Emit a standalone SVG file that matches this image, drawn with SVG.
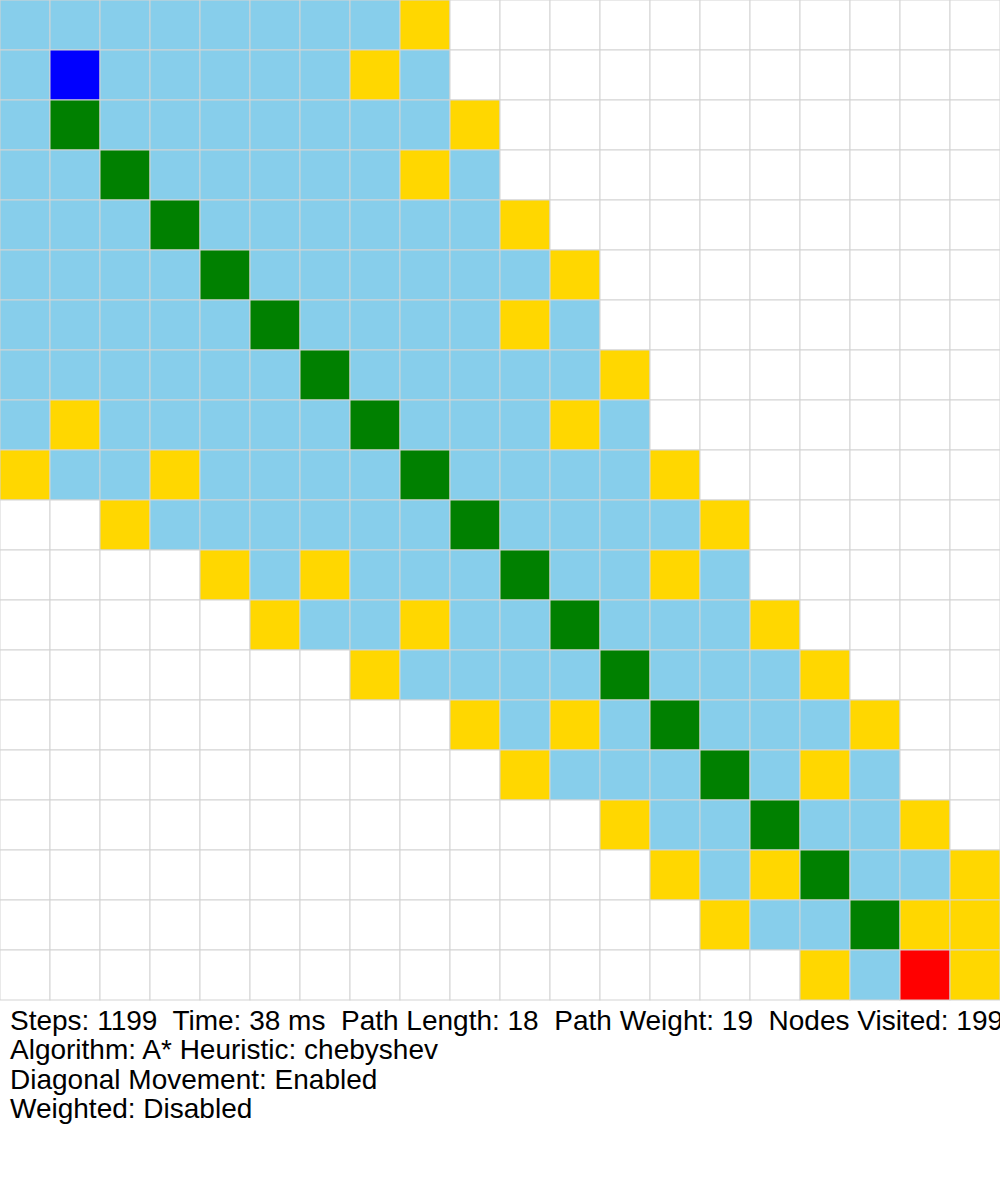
<svg xmlns="http://www.w3.org/2000/svg" width="1000" height="1200" viewBox="0 0 1000 1200">
<style>
#grid rect{stroke:#d3d3d3;stroke-width:1}
.w{fill:#ffffff}.v{fill:#87ceeb}.o{fill:#ffd700}.p{fill:#008000}.s{fill:#0000ff}.e{fill:#ff0000}
text{font-family:"Liberation Sans",Arial,sans-serif;font-size:28px;fill:#000;white-space:pre}
</style>
<rect x="0" y="0" width="1000" height="1200" fill="#fff"/>
<g id="grid">
<!-- row 0 -->
<rect class="v" x="0" y="0" width="50" height="50"/><rect class="v" x="50" y="0" width="50" height="50"/><rect class="v" x="100" y="0" width="50" height="50"/><rect class="v" x="150" y="0" width="50" height="50"/><rect class="v" x="200" y="0" width="50" height="50"/><rect class="v" x="250" y="0" width="50" height="50"/><rect class="v" x="300" y="0" width="50" height="50"/><rect class="v" x="350" y="0" width="50" height="50"/><rect class="o" x="400" y="0" width="50" height="50"/><rect class="w" x="450" y="0" width="50" height="50"/><rect class="w" x="500" y="0" width="50" height="50"/><rect class="w" x="550" y="0" width="50" height="50"/><rect class="w" x="600" y="0" width="50" height="50"/><rect class="w" x="650" y="0" width="50" height="50"/><rect class="w" x="700" y="0" width="50" height="50"/><rect class="w" x="750" y="0" width="50" height="50"/><rect class="w" x="800" y="0" width="50" height="50"/><rect class="w" x="850" y="0" width="50" height="50"/><rect class="w" x="900" y="0" width="50" height="50"/><rect class="w" x="950" y="0" width="50" height="50"/>
<!-- row 1 -->
<rect class="v" x="0" y="50" width="50" height="50"/><rect class="s" x="50" y="50" width="50" height="50"/><rect class="v" x="100" y="50" width="50" height="50"/><rect class="v" x="150" y="50" width="50" height="50"/><rect class="v" x="200" y="50" width="50" height="50"/><rect class="v" x="250" y="50" width="50" height="50"/><rect class="v" x="300" y="50" width="50" height="50"/><rect class="o" x="350" y="50" width="50" height="50"/><rect class="v" x="400" y="50" width="50" height="50"/><rect class="w" x="450" y="50" width="50" height="50"/><rect class="w" x="500" y="50" width="50" height="50"/><rect class="w" x="550" y="50" width="50" height="50"/><rect class="w" x="600" y="50" width="50" height="50"/><rect class="w" x="650" y="50" width="50" height="50"/><rect class="w" x="700" y="50" width="50" height="50"/><rect class="w" x="750" y="50" width="50" height="50"/><rect class="w" x="800" y="50" width="50" height="50"/><rect class="w" x="850" y="50" width="50" height="50"/><rect class="w" x="900" y="50" width="50" height="50"/><rect class="w" x="950" y="50" width="50" height="50"/>
<!-- row 2 -->
<rect class="v" x="0" y="100" width="50" height="50"/><rect class="p" x="50" y="100" width="50" height="50"/><rect class="v" x="100" y="100" width="50" height="50"/><rect class="v" x="150" y="100" width="50" height="50"/><rect class="v" x="200" y="100" width="50" height="50"/><rect class="v" x="250" y="100" width="50" height="50"/><rect class="v" x="300" y="100" width="50" height="50"/><rect class="v" x="350" y="100" width="50" height="50"/><rect class="v" x="400" y="100" width="50" height="50"/><rect class="o" x="450" y="100" width="50" height="50"/><rect class="w" x="500" y="100" width="50" height="50"/><rect class="w" x="550" y="100" width="50" height="50"/><rect class="w" x="600" y="100" width="50" height="50"/><rect class="w" x="650" y="100" width="50" height="50"/><rect class="w" x="700" y="100" width="50" height="50"/><rect class="w" x="750" y="100" width="50" height="50"/><rect class="w" x="800" y="100" width="50" height="50"/><rect class="w" x="850" y="100" width="50" height="50"/><rect class="w" x="900" y="100" width="50" height="50"/><rect class="w" x="950" y="100" width="50" height="50"/>
<!-- row 3 -->
<rect class="v" x="0" y="150" width="50" height="50"/><rect class="v" x="50" y="150" width="50" height="50"/><rect class="p" x="100" y="150" width="50" height="50"/><rect class="v" x="150" y="150" width="50" height="50"/><rect class="v" x="200" y="150" width="50" height="50"/><rect class="v" x="250" y="150" width="50" height="50"/><rect class="v" x="300" y="150" width="50" height="50"/><rect class="v" x="350" y="150" width="50" height="50"/><rect class="o" x="400" y="150" width="50" height="50"/><rect class="v" x="450" y="150" width="50" height="50"/><rect class="w" x="500" y="150" width="50" height="50"/><rect class="w" x="550" y="150" width="50" height="50"/><rect class="w" x="600" y="150" width="50" height="50"/><rect class="w" x="650" y="150" width="50" height="50"/><rect class="w" x="700" y="150" width="50" height="50"/><rect class="w" x="750" y="150" width="50" height="50"/><rect class="w" x="800" y="150" width="50" height="50"/><rect class="w" x="850" y="150" width="50" height="50"/><rect class="w" x="900" y="150" width="50" height="50"/><rect class="w" x="950" y="150" width="50" height="50"/>
<!-- row 4 -->
<rect class="v" x="0" y="200" width="50" height="50"/><rect class="v" x="50" y="200" width="50" height="50"/><rect class="v" x="100" y="200" width="50" height="50"/><rect class="p" x="150" y="200" width="50" height="50"/><rect class="v" x="200" y="200" width="50" height="50"/><rect class="v" x="250" y="200" width="50" height="50"/><rect class="v" x="300" y="200" width="50" height="50"/><rect class="v" x="350" y="200" width="50" height="50"/><rect class="v" x="400" y="200" width="50" height="50"/><rect class="v" x="450" y="200" width="50" height="50"/><rect class="o" x="500" y="200" width="50" height="50"/><rect class="w" x="550" y="200" width="50" height="50"/><rect class="w" x="600" y="200" width="50" height="50"/><rect class="w" x="650" y="200" width="50" height="50"/><rect class="w" x="700" y="200" width="50" height="50"/><rect class="w" x="750" y="200" width="50" height="50"/><rect class="w" x="800" y="200" width="50" height="50"/><rect class="w" x="850" y="200" width="50" height="50"/><rect class="w" x="900" y="200" width="50" height="50"/><rect class="w" x="950" y="200" width="50" height="50"/>
<!-- row 5 -->
<rect class="v" x="0" y="250" width="50" height="50"/><rect class="v" x="50" y="250" width="50" height="50"/><rect class="v" x="100" y="250" width="50" height="50"/><rect class="v" x="150" y="250" width="50" height="50"/><rect class="p" x="200" y="250" width="50" height="50"/><rect class="v" x="250" y="250" width="50" height="50"/><rect class="v" x="300" y="250" width="50" height="50"/><rect class="v" x="350" y="250" width="50" height="50"/><rect class="v" x="400" y="250" width="50" height="50"/><rect class="v" x="450" y="250" width="50" height="50"/><rect class="v" x="500" y="250" width="50" height="50"/><rect class="o" x="550" y="250" width="50" height="50"/><rect class="w" x="600" y="250" width="50" height="50"/><rect class="w" x="650" y="250" width="50" height="50"/><rect class="w" x="700" y="250" width="50" height="50"/><rect class="w" x="750" y="250" width="50" height="50"/><rect class="w" x="800" y="250" width="50" height="50"/><rect class="w" x="850" y="250" width="50" height="50"/><rect class="w" x="900" y="250" width="50" height="50"/><rect class="w" x="950" y="250" width="50" height="50"/>
<!-- row 6 -->
<rect class="v" x="0" y="300" width="50" height="50"/><rect class="v" x="50" y="300" width="50" height="50"/><rect class="v" x="100" y="300" width="50" height="50"/><rect class="v" x="150" y="300" width="50" height="50"/><rect class="v" x="200" y="300" width="50" height="50"/><rect class="p" x="250" y="300" width="50" height="50"/><rect class="v" x="300" y="300" width="50" height="50"/><rect class="v" x="350" y="300" width="50" height="50"/><rect class="v" x="400" y="300" width="50" height="50"/><rect class="v" x="450" y="300" width="50" height="50"/><rect class="o" x="500" y="300" width="50" height="50"/><rect class="v" x="550" y="300" width="50" height="50"/><rect class="w" x="600" y="300" width="50" height="50"/><rect class="w" x="650" y="300" width="50" height="50"/><rect class="w" x="700" y="300" width="50" height="50"/><rect class="w" x="750" y="300" width="50" height="50"/><rect class="w" x="800" y="300" width="50" height="50"/><rect class="w" x="850" y="300" width="50" height="50"/><rect class="w" x="900" y="300" width="50" height="50"/><rect class="w" x="950" y="300" width="50" height="50"/>
<!-- row 7 -->
<rect class="v" x="0" y="350" width="50" height="50"/><rect class="v" x="50" y="350" width="50" height="50"/><rect class="v" x="100" y="350" width="50" height="50"/><rect class="v" x="150" y="350" width="50" height="50"/><rect class="v" x="200" y="350" width="50" height="50"/><rect class="v" x="250" y="350" width="50" height="50"/><rect class="p" x="300" y="350" width="50" height="50"/><rect class="v" x="350" y="350" width="50" height="50"/><rect class="v" x="400" y="350" width="50" height="50"/><rect class="v" x="450" y="350" width="50" height="50"/><rect class="v" x="500" y="350" width="50" height="50"/><rect class="v" x="550" y="350" width="50" height="50"/><rect class="o" x="600" y="350" width="50" height="50"/><rect class="w" x="650" y="350" width="50" height="50"/><rect class="w" x="700" y="350" width="50" height="50"/><rect class="w" x="750" y="350" width="50" height="50"/><rect class="w" x="800" y="350" width="50" height="50"/><rect class="w" x="850" y="350" width="50" height="50"/><rect class="w" x="900" y="350" width="50" height="50"/><rect class="w" x="950" y="350" width="50" height="50"/>
<!-- row 8 -->
<rect class="v" x="0" y="400" width="50" height="50"/><rect class="o" x="50" y="400" width="50" height="50"/><rect class="v" x="100" y="400" width="50" height="50"/><rect class="v" x="150" y="400" width="50" height="50"/><rect class="v" x="200" y="400" width="50" height="50"/><rect class="v" x="250" y="400" width="50" height="50"/><rect class="v" x="300" y="400" width="50" height="50"/><rect class="p" x="350" y="400" width="50" height="50"/><rect class="v" x="400" y="400" width="50" height="50"/><rect class="v" x="450" y="400" width="50" height="50"/><rect class="v" x="500" y="400" width="50" height="50"/><rect class="o" x="550" y="400" width="50" height="50"/><rect class="v" x="600" y="400" width="50" height="50"/><rect class="w" x="650" y="400" width="50" height="50"/><rect class="w" x="700" y="400" width="50" height="50"/><rect class="w" x="750" y="400" width="50" height="50"/><rect class="w" x="800" y="400" width="50" height="50"/><rect class="w" x="850" y="400" width="50" height="50"/><rect class="w" x="900" y="400" width="50" height="50"/><rect class="w" x="950" y="400" width="50" height="50"/>
<!-- row 9 -->
<rect class="o" x="0" y="450" width="50" height="50"/><rect class="v" x="50" y="450" width="50" height="50"/><rect class="v" x="100" y="450" width="50" height="50"/><rect class="o" x="150" y="450" width="50" height="50"/><rect class="v" x="200" y="450" width="50" height="50"/><rect class="v" x="250" y="450" width="50" height="50"/><rect class="v" x="300" y="450" width="50" height="50"/><rect class="v" x="350" y="450" width="50" height="50"/><rect class="p" x="400" y="450" width="50" height="50"/><rect class="v" x="450" y="450" width="50" height="50"/><rect class="v" x="500" y="450" width="50" height="50"/><rect class="v" x="550" y="450" width="50" height="50"/><rect class="v" x="600" y="450" width="50" height="50"/><rect class="o" x="650" y="450" width="50" height="50"/><rect class="w" x="700" y="450" width="50" height="50"/><rect class="w" x="750" y="450" width="50" height="50"/><rect class="w" x="800" y="450" width="50" height="50"/><rect class="w" x="850" y="450" width="50" height="50"/><rect class="w" x="900" y="450" width="50" height="50"/><rect class="w" x="950" y="450" width="50" height="50"/>
<!-- row 10 -->
<rect class="w" x="0" y="500" width="50" height="50"/><rect class="w" x="50" y="500" width="50" height="50"/><rect class="o" x="100" y="500" width="50" height="50"/><rect class="v" x="150" y="500" width="50" height="50"/><rect class="v" x="200" y="500" width="50" height="50"/><rect class="v" x="250" y="500" width="50" height="50"/><rect class="v" x="300" y="500" width="50" height="50"/><rect class="v" x="350" y="500" width="50" height="50"/><rect class="v" x="400" y="500" width="50" height="50"/><rect class="p" x="450" y="500" width="50" height="50"/><rect class="v" x="500" y="500" width="50" height="50"/><rect class="v" x="550" y="500" width="50" height="50"/><rect class="v" x="600" y="500" width="50" height="50"/><rect class="v" x="650" y="500" width="50" height="50"/><rect class="o" x="700" y="500" width="50" height="50"/><rect class="w" x="750" y="500" width="50" height="50"/><rect class="w" x="800" y="500" width="50" height="50"/><rect class="w" x="850" y="500" width="50" height="50"/><rect class="w" x="900" y="500" width="50" height="50"/><rect class="w" x="950" y="500" width="50" height="50"/>
<!-- row 11 -->
<rect class="w" x="0" y="550" width="50" height="50"/><rect class="w" x="50" y="550" width="50" height="50"/><rect class="w" x="100" y="550" width="50" height="50"/><rect class="w" x="150" y="550" width="50" height="50"/><rect class="o" x="200" y="550" width="50" height="50"/><rect class="v" x="250" y="550" width="50" height="50"/><rect class="o" x="300" y="550" width="50" height="50"/><rect class="v" x="350" y="550" width="50" height="50"/><rect class="v" x="400" y="550" width="50" height="50"/><rect class="v" x="450" y="550" width="50" height="50"/><rect class="p" x="500" y="550" width="50" height="50"/><rect class="v" x="550" y="550" width="50" height="50"/><rect class="v" x="600" y="550" width="50" height="50"/><rect class="o" x="650" y="550" width="50" height="50"/><rect class="v" x="700" y="550" width="50" height="50"/><rect class="w" x="750" y="550" width="50" height="50"/><rect class="w" x="800" y="550" width="50" height="50"/><rect class="w" x="850" y="550" width="50" height="50"/><rect class="w" x="900" y="550" width="50" height="50"/><rect class="w" x="950" y="550" width="50" height="50"/>
<!-- row 12 -->
<rect class="w" x="0" y="600" width="50" height="50"/><rect class="w" x="50" y="600" width="50" height="50"/><rect class="w" x="100" y="600" width="50" height="50"/><rect class="w" x="150" y="600" width="50" height="50"/><rect class="w" x="200" y="600" width="50" height="50"/><rect class="o" x="250" y="600" width="50" height="50"/><rect class="v" x="300" y="600" width="50" height="50"/><rect class="v" x="350" y="600" width="50" height="50"/><rect class="o" x="400" y="600" width="50" height="50"/><rect class="v" x="450" y="600" width="50" height="50"/><rect class="v" x="500" y="600" width="50" height="50"/><rect class="p" x="550" y="600" width="50" height="50"/><rect class="v" x="600" y="600" width="50" height="50"/><rect class="v" x="650" y="600" width="50" height="50"/><rect class="v" x="700" y="600" width="50" height="50"/><rect class="o" x="750" y="600" width="50" height="50"/><rect class="w" x="800" y="600" width="50" height="50"/><rect class="w" x="850" y="600" width="50" height="50"/><rect class="w" x="900" y="600" width="50" height="50"/><rect class="w" x="950" y="600" width="50" height="50"/>
<!-- row 13 -->
<rect class="w" x="0" y="650" width="50" height="50"/><rect class="w" x="50" y="650" width="50" height="50"/><rect class="w" x="100" y="650" width="50" height="50"/><rect class="w" x="150" y="650" width="50" height="50"/><rect class="w" x="200" y="650" width="50" height="50"/><rect class="w" x="250" y="650" width="50" height="50"/><rect class="w" x="300" y="650" width="50" height="50"/><rect class="o" x="350" y="650" width="50" height="50"/><rect class="v" x="400" y="650" width="50" height="50"/><rect class="v" x="450" y="650" width="50" height="50"/><rect class="v" x="500" y="650" width="50" height="50"/><rect class="v" x="550" y="650" width="50" height="50"/><rect class="p" x="600" y="650" width="50" height="50"/><rect class="v" x="650" y="650" width="50" height="50"/><rect class="v" x="700" y="650" width="50" height="50"/><rect class="v" x="750" y="650" width="50" height="50"/><rect class="o" x="800" y="650" width="50" height="50"/><rect class="w" x="850" y="650" width="50" height="50"/><rect class="w" x="900" y="650" width="50" height="50"/><rect class="w" x="950" y="650" width="50" height="50"/>
<!-- row 14 -->
<rect class="w" x="0" y="700" width="50" height="50"/><rect class="w" x="50" y="700" width="50" height="50"/><rect class="w" x="100" y="700" width="50" height="50"/><rect class="w" x="150" y="700" width="50" height="50"/><rect class="w" x="200" y="700" width="50" height="50"/><rect class="w" x="250" y="700" width="50" height="50"/><rect class="w" x="300" y="700" width="50" height="50"/><rect class="w" x="350" y="700" width="50" height="50"/><rect class="w" x="400" y="700" width="50" height="50"/><rect class="o" x="450" y="700" width="50" height="50"/><rect class="v" x="500" y="700" width="50" height="50"/><rect class="o" x="550" y="700" width="50" height="50"/><rect class="v" x="600" y="700" width="50" height="50"/><rect class="p" x="650" y="700" width="50" height="50"/><rect class="v" x="700" y="700" width="50" height="50"/><rect class="v" x="750" y="700" width="50" height="50"/><rect class="v" x="800" y="700" width="50" height="50"/><rect class="o" x="850" y="700" width="50" height="50"/><rect class="w" x="900" y="700" width="50" height="50"/><rect class="w" x="950" y="700" width="50" height="50"/>
<!-- row 15 -->
<rect class="w" x="0" y="750" width="50" height="50"/><rect class="w" x="50" y="750" width="50" height="50"/><rect class="w" x="100" y="750" width="50" height="50"/><rect class="w" x="150" y="750" width="50" height="50"/><rect class="w" x="200" y="750" width="50" height="50"/><rect class="w" x="250" y="750" width="50" height="50"/><rect class="w" x="300" y="750" width="50" height="50"/><rect class="w" x="350" y="750" width="50" height="50"/><rect class="w" x="400" y="750" width="50" height="50"/><rect class="w" x="450" y="750" width="50" height="50"/><rect class="o" x="500" y="750" width="50" height="50"/><rect class="v" x="550" y="750" width="50" height="50"/><rect class="v" x="600" y="750" width="50" height="50"/><rect class="v" x="650" y="750" width="50" height="50"/><rect class="p" x="700" y="750" width="50" height="50"/><rect class="v" x="750" y="750" width="50" height="50"/><rect class="o" x="800" y="750" width="50" height="50"/><rect class="v" x="850" y="750" width="50" height="50"/><rect class="w" x="900" y="750" width="50" height="50"/><rect class="w" x="950" y="750" width="50" height="50"/>
<!-- row 16 -->
<rect class="w" x="0" y="800" width="50" height="50"/><rect class="w" x="50" y="800" width="50" height="50"/><rect class="w" x="100" y="800" width="50" height="50"/><rect class="w" x="150" y="800" width="50" height="50"/><rect class="w" x="200" y="800" width="50" height="50"/><rect class="w" x="250" y="800" width="50" height="50"/><rect class="w" x="300" y="800" width="50" height="50"/><rect class="w" x="350" y="800" width="50" height="50"/><rect class="w" x="400" y="800" width="50" height="50"/><rect class="w" x="450" y="800" width="50" height="50"/><rect class="w" x="500" y="800" width="50" height="50"/><rect class="w" x="550" y="800" width="50" height="50"/><rect class="o" x="600" y="800" width="50" height="50"/><rect class="v" x="650" y="800" width="50" height="50"/><rect class="v" x="700" y="800" width="50" height="50"/><rect class="p" x="750" y="800" width="50" height="50"/><rect class="v" x="800" y="800" width="50" height="50"/><rect class="v" x="850" y="800" width="50" height="50"/><rect class="o" x="900" y="800" width="50" height="50"/><rect class="w" x="950" y="800" width="50" height="50"/>
<!-- row 17 -->
<rect class="w" x="0" y="850" width="50" height="50"/><rect class="w" x="50" y="850" width="50" height="50"/><rect class="w" x="100" y="850" width="50" height="50"/><rect class="w" x="150" y="850" width="50" height="50"/><rect class="w" x="200" y="850" width="50" height="50"/><rect class="w" x="250" y="850" width="50" height="50"/><rect class="w" x="300" y="850" width="50" height="50"/><rect class="w" x="350" y="850" width="50" height="50"/><rect class="w" x="400" y="850" width="50" height="50"/><rect class="w" x="450" y="850" width="50" height="50"/><rect class="w" x="500" y="850" width="50" height="50"/><rect class="w" x="550" y="850" width="50" height="50"/><rect class="w" x="600" y="850" width="50" height="50"/><rect class="o" x="650" y="850" width="50" height="50"/><rect class="v" x="700" y="850" width="50" height="50"/><rect class="o" x="750" y="850" width="50" height="50"/><rect class="p" x="800" y="850" width="50" height="50"/><rect class="v" x="850" y="850" width="50" height="50"/><rect class="v" x="900" y="850" width="50" height="50"/><rect class="o" x="950" y="850" width="50" height="50"/>
<!-- row 18 -->
<rect class="w" x="0" y="900" width="50" height="50"/><rect class="w" x="50" y="900" width="50" height="50"/><rect class="w" x="100" y="900" width="50" height="50"/><rect class="w" x="150" y="900" width="50" height="50"/><rect class="w" x="200" y="900" width="50" height="50"/><rect class="w" x="250" y="900" width="50" height="50"/><rect class="w" x="300" y="900" width="50" height="50"/><rect class="w" x="350" y="900" width="50" height="50"/><rect class="w" x="400" y="900" width="50" height="50"/><rect class="w" x="450" y="900" width="50" height="50"/><rect class="w" x="500" y="900" width="50" height="50"/><rect class="w" x="550" y="900" width="50" height="50"/><rect class="w" x="600" y="900" width="50" height="50"/><rect class="w" x="650" y="900" width="50" height="50"/><rect class="o" x="700" y="900" width="50" height="50"/><rect class="v" x="750" y="900" width="50" height="50"/><rect class="v" x="800" y="900" width="50" height="50"/><rect class="p" x="850" y="900" width="50" height="50"/><rect class="o" x="900" y="900" width="50" height="50"/><rect class="o" x="950" y="900" width="50" height="50"/>
<!-- row 19 -->
<rect class="w" x="0" y="950" width="50" height="50"/><rect class="w" x="50" y="950" width="50" height="50"/><rect class="w" x="100" y="950" width="50" height="50"/><rect class="w" x="150" y="950" width="50" height="50"/><rect class="w" x="200" y="950" width="50" height="50"/><rect class="w" x="250" y="950" width="50" height="50"/><rect class="w" x="300" y="950" width="50" height="50"/><rect class="w" x="350" y="950" width="50" height="50"/><rect class="w" x="400" y="950" width="50" height="50"/><rect class="w" x="450" y="950" width="50" height="50"/><rect class="w" x="500" y="950" width="50" height="50"/><rect class="w" x="550" y="950" width="50" height="50"/><rect class="w" x="600" y="950" width="50" height="50"/><rect class="w" x="650" y="950" width="50" height="50"/><rect class="w" x="700" y="950" width="50" height="50"/><rect class="w" x="750" y="950" width="50" height="50"/><rect class="o" x="800" y="950" width="50" height="50"/><rect class="v" x="850" y="950" width="50" height="50"/><rect class="e" x="900" y="950" width="50" height="50"/><rect class="o" x="950" y="950" width="50" height="50"/>
</g>
<g id="stats">
<text x="10" y="1030" xml:space="preserve">Steps: 1199  Time: 38 ms  Path Length: 18  Path Weight: 19  Nodes Visited: 199</text>
<text x="10" y="1059">Algorithm: A* Heuristic: chebyshev</text>
<text x="10" y="1089">Diagonal Movement: Enabled</text>
<text x="10" y="1118">Weighted: Disabled</text>
</g>
</svg>
